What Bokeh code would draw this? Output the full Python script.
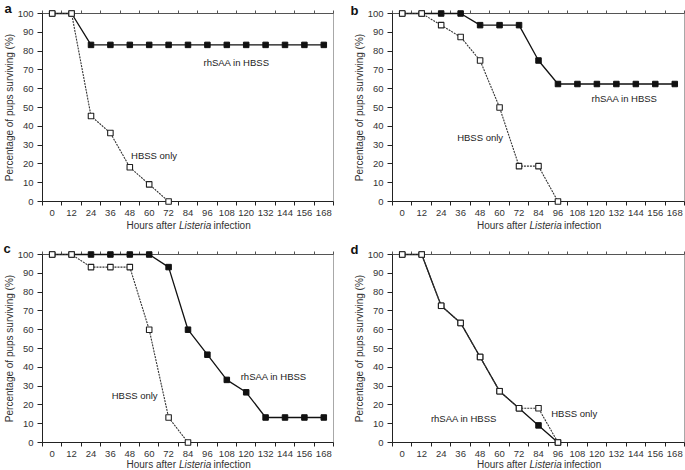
from bokeh.plotting import figure
from bokeh.models import Range1d, FixedTicker, LinearAxis
from bokeh.layouts import column, row
from bokeh.embed import file_html
from bokeh.resources import INLINE
from bokeh.core.properties import value

# ---------------- data ----------------
hours = [0, 12, 24, 36, 48, 60, 72, 84, 96, 108, 120, 132, 144, 156, 168]
tick_labels = [str(h) for h in hours]
y_ticks = [0, 10, 20, 30, 40, 50, 60, 70, 80, 90, 100]

a_rh = [100, 100, 83.3, 83.3, 83.3, 83.3, 83.3, 83.3, 83.3, 83.3, 83.3, 83.3, 83.3, 83.3, 83.3]
a_hb = [100, 100, 45.5, 36.4, 18.2, 9.1, 0]

b_rh = [100, 100, 100, 100, 93.8, 93.8, 93.8, 75, 62.5, 62.5, 62.5, 62.5, 62.5, 62.5, 62.5]
b_hb = [100, 100, 93.8, 87.5, 75, 50, 18.8, 18.8, 0]

c_rh = [100, 100, 100, 100, 100, 100, 93.3, 60, 46.7, 33.3, 26.7, 13.3, 13.3, 13.3, 13.3]
c_hb = [100, 100, 93.3, 93.3, 93.3, 60, 13.3, 0]

d_rh = [100, 100, 72.7, 63.6, 45.5, 27.3, 18.2, 9.1, 0]
d_hb = [100, 100, 72.7, 63.6, 45.5, 27.3, 18.2, 18.2, 0]

series_rh = "rhSAA in HBSS"
series_hb = "HBSS only"
panel_letters = ["a", "b", "c", "d"]
x_title_parts = ["Hours after", "Listeria", "infection"]
y_title = "Percentage of pups surviving (%)"

FONT = "Liberation Sans"
bounds = [h - 6 for h in hours] + [hours[-1] + 6]


def make_panel(letter, rh, hb, rh_pos, hb_pos, width, height,
               mb_left, mb_right, mb_top, mb_bottom, letter_dx, letter_dy,
               title_dy):
    p = figure(width=width, height=height, output_backend="svg",
               toolbar_location=None,
               x_range=Range1d(-6, 174), y_range=Range1d(0, 100),
               min_border_left=mb_left, min_border_right=mb_right,
               min_border_top=mb_top, min_border_bottom=mb_bottom)
    p.xgrid.visible = False
    p.ygrid.visible = False
    p.outline_line_color = "#a8a8a8"
    p.outline_line_width = 1

    # bottom axis
    xa = p.xaxis[0]
    xa.ticker = FixedTicker(ticks=hours, minor_ticks=bounds)
    xa.major_label_overrides = {h: t for h, t in zip(hours, tick_labels)}
    xa.major_tick_line_color = None
    xa.minor_tick_line_color = "#222222"
    xa.minor_tick_out = 4
    xa.minor_tick_in = 0
    xa.axis_line_color = "#222222"
    xa.major_label_text_font = FONT
    xa.major_label_text_font_size = "9.5px"
    xa.major_label_text_color = "#333333"
    xa.major_label_standoff = 2

    # top axis (ticks only)
    top = LinearAxis(ticker=FixedTicker(ticks=[], minor_ticks=bounds))
    top.major_tick_line_color = None
    top.minor_tick_line_color = "#555555"
    top.minor_tick_out = 3
    top.minor_tick_in = 0
    top.axis_line_color = "#555555"
    top.major_label_text_font_size = "0px"
    top.major_label_standoff = 0
    p.add_layout(top, "above")

    # y axis
    ya = p.yaxis[0]
    ya.ticker = FixedTicker(ticks=y_ticks)
    ya.minor_tick_line_color = None
    ya.major_tick_out = 5
    ya.major_tick_in = 0
    ya.axis_line_color = "#222222"
    ya.major_tick_line_color = "#222222"
    ya.major_label_text_font = FONT
    ya.major_label_text_font_size = "9.5px"
    ya.major_label_text_color = "#333333"
    ya.major_label_standoff = 4
    ya.axis_label = y_title
    ya.axis_label_text_font = FONT
    ya.axis_label_text_font_size = "10px"
    ya.axis_label_text_font_style = "normal"
    ya.axis_label_text_color = "#333333"
    ya.axis_label_standoff = 0

    rx = hours[:len(rh)]
    hx = hours[:len(hb)]
    p.line(rx, rh, line_color="#111111", line_width=1.3, level="overlay")
    p.line(hx, hb, line_color="#333333", line_width=1.1, line_dash="2 1",
           level="overlay")
    p.scatter(rx, rh, marker="square", size=5.5, fill_color="#111111",
              line_color="#111111", line_width=1, level="overlay")
    p.scatter(hx, hb, marker="square", size=5.5, fill_color="white",
              line_color="#222222", line_width=1.1, level="overlay")

    p.text(x=[rh_pos[0]], y=[rh_pos[1]], text=[series_rh],
           text_font=value(FONT), text_font_size="9.5px", text_color="#222222",
           text_align="center", text_baseline="middle")
    p.text(x=[hb_pos[0]], y=[hb_pos[1]], text=[series_hb],
           text_font=value(FONT), text_font_size="9.5px", text_color="#222222",
           text_align="center", text_baseline="middle")

    # x axis title with italic "Listeria" (drawn as unclipped text glyphs)
    offs = [-61.5, -9.0, 25.5]
    styles = ["normal", "italic", "normal"]
    for txt, style, off in zip(x_title_parts, styles, offs):
        p.text(x=[84], y=[0], text=[txt], x_offset=off, y_offset=title_dy,
               text_font=value(FONT), text_font_size="10px",
               text_font_style=style, text_color="#333333",
               text_align="left", text_baseline="middle", level="overlay")

    # panel letter
    p.text(x=[-6], y=[100], text=[letter], x_offset=letter_dx,
           y_offset=-letter_dy, text_font=value(FONT), text_font_size="13px",
           text_font_style="bold", text_color="#111111", text_align="left",
           text_baseline="alphabetic", level="overlay")
    return p


pa = make_panel(panel_letters[0], a_rh, a_hb, (114, 74), (63, 24.5),
                340, 235, 40, 7, 13, 34, -38, 5, 24)
pb = make_panel(panel_letters[1], b_rh, b_hb, (137, 55), (48, 34),
                345, 235, 52, 1, 12, 34, -42, 3, 24)
pc = make_panel(panel_letters[2], c_rh, c_hb, (137, 35), (51, 25),
                340, 235, 40, 7, 19, 27, -39, 6, 22)
pd = make_panel(panel_letters[3], d_rh, d_hb, (38, 13), (106, 15.3),
                345, 235, 52, 1, 18, 28, -42, 5, 22)

layout = column(row(pa, pb), row(pc, pd))
open("out.html", "w").write(file_html(layout, INLINE))
